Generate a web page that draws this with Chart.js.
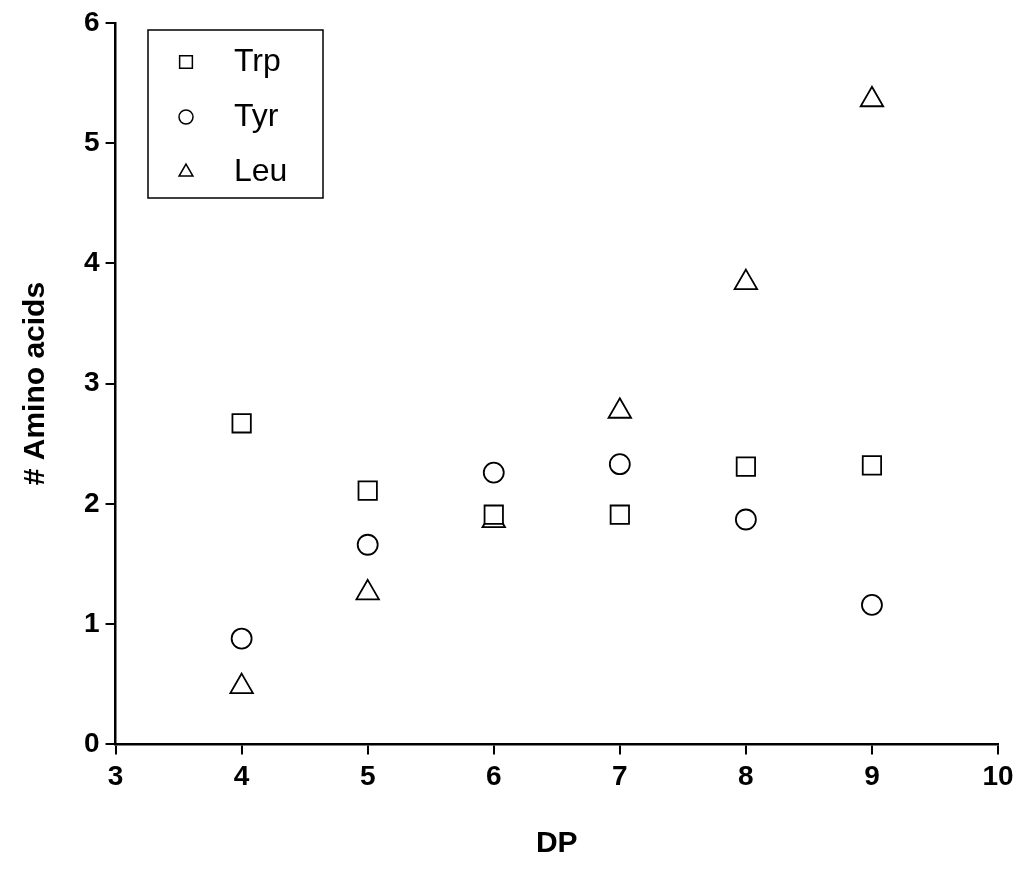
<!DOCTYPE html>
<html><head><meta charset="utf-8">
<script src="https://cdn.jsdelivr.net/npm/chart.js@4/dist/chart.umd.min.js"></script>
<style>body{margin:0;background:#fff}#wrap{width:1024px;height:880px}</style>
</head><body><div id="wrap"><canvas id="c"></canvas></div>
<script>
const dp = [4, 5, 6, 7, 8, 9];
const trp = [2.67, 2.11, 1.91, 1.91, 2.31, 2.32];
const tyr = [0.88, 1.66, 2.26, 2.33, 1.87, 1.16];
const leu = [0.48, 1.26, 1.86, 2.77, 3.84, 5.36];

const series = [
  { label: 'Trp', values: trp, style: 'rect', r: 13, lr: 9 },
  { label: 'Tyr', values: tyr, style: 'circle', r: 10, lr: 7 },
  { label: 'Leu', values: leu, style: 'triangle', r: 13, lr: 8 }
];

const font = 'Liberation Sans, Arial, sans-serif';

// legend box drawn like the original (framed, top-left of plot)
const legendBox = {
  id: 'legendBox',
  afterDraw(chart) {
    const ctx = chart.ctx;
    ctx.save();
    ctx.strokeStyle = '#000';
    ctx.lineWidth = 1.5;
    ctx.strokeRect(148, 30, 175, 168);
    ctx.textBaseline = 'middle';
    series.forEach((s, i) => {
      const y = 62 + i * 55;
      ctx.fillStyle = '#fff';
      ctx.strokeStyle = '#000';
      ctx.lineWidth = 1.5;
      Chart.helpers.drawPoint(ctx, { pointStyle: s.style, radius: s.lr, borderWidth: 1.5 }, 186, y);
      ctx.fillStyle = '#000';
      ctx.font = '32px ' + font;
      ctx.fillText(s.label, 234, y);
    });
    ctx.restore();
  }
};

new Chart(document.getElementById('c'), {
  type: 'scatter',
  data: {
    datasets: series.map(s => ({
      label: s.label,
      data: dp.map((x, i) => ({ x: x, y: s.values[i] })),
      pointStyle: s.style,
      pointRadius: s.r,
      pointBorderWidth: 1.8,
      borderColor: '#000',
      backgroundColor: '#fff'
    }))
  },
  options: {
    responsive: true,
    maintainAspectRatio: false,
    animation: false,
    layout: { padding: { top: 21, right: 26, left: 14, bottom: 14 } },
    plugins: { legend: { display: false }, tooltip: { enabled: false } },
    scales: {
      x: {
        min: 3, max: 10,
        ticks: { stepSize: 1, color: '#000', font: { family: font, size: 28, weight: 'bold' }, padding: 6 },
        grid: { drawOnChartArea: false, color: '#000', tickLength: 10, lineWidth: 2 },
        border: { color: '#000', width: 2.5 },
        title: { display: true, text: 'DP', color: '#000', font: { family: font, size: 30, weight: 'bold' }, padding: { top: 26 } }
      },
      y: {
        min: 0, max: 6,
        ticks: { stepSize: 1, color: '#000', font: { family: font, size: 28, weight: 'bold' }, padding: 6 },
        grid: { drawOnChartArea: false, color: '#000', tickLength: 10, lineWidth: 2 },
        border: { color: '#000', width: 2.5 },
        title: { display: true, text: '# Amino acids', color: '#000', font: { family: font, size: 30, weight: 'bold' }, padding: { bottom: 24 } }
      }
    }
  },
  plugins: [legendBox]
});
</script></body></html>
